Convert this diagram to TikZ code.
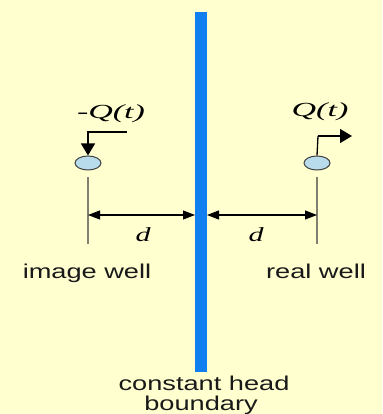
\documentclass[tikz,border=0pt]{standalone}
\usepackage{fontspec}
\setmainfont{Liberation Sans}
\newfontfamily\serifit{Liberation Serif}
\usetikzlibrary{arrows.meta,shapes.geometric}
\definecolor{bg}{RGB}{255,255,208}
\definecolor{barblue}{RGB}{16,128,240}
\definecolor{wellfill}{RGB}{184,220,236}
\definecolor{wellline}{RGB}{128,128,112}
\newcommand{\wide}[1]{\scalebox{1.36}[1]{#1}}
\tikzset{
  lbl/.style={inner sep=0pt, font=\fontsize{20}{20}\selectfont, text=black!90},
  mathlbl/.style={inner sep=0pt, font=\fontsize{20}{22}\selectfont\serifit\itshape},
  wellhead/.style={ellipse, draw=black!75, line width=1pt, fill=wellfill, minimum width=26pt, minimum height=14pt, inner sep=0pt},
  wellpipe/.style={draw=wellline, line width=1.8pt},
  flowarrow/.style={draw=black, line width=1.3pt, -{Triangle[length=12pt,width=14pt]}},
  dimarrow/.style={draw=black, line width=1.1pt, {Triangle[length=12pt,width=9pt]}-{Triangle[length=12pt,width=9pt]}}
}
\begin{document}
\begin{tikzpicture}[x=1pt,y=-1pt]
\fill[bg] (0,0) rectangle (382,414);
\useasboundingbox (0,0) rectangle (382,414);
% boundary
\node[fill=barblue, minimum width=12pt, minimum height=360pt, inner sep=0pt] (bar) at (201,192) {};
% wells
\node[wellhead] (lw) at (88,163) {};
\node[wellhead] (rw) at (317,163) {};
\coordinate (lwb) at (88,244);
\coordinate (rwb) at (317,244);
\draw[wellpipe] (88,177) coordinate (lwt) -- (lwb);
\draw[wellpipe] (317,177) coordinate (rwt) -- (rwb);
% flow arrows
\coordinate (lstart) at (127,132);
\coordinate (lcorner) at (88,132);
\draw[flowarrow] (lstart) -- (lcorner) -- (lw.north);
\coordinate (rcorner) at (318,136);
\coordinate (rend) at (352,136);
\draw[draw=black, line width=1.3pt] (rw.north) -- (rcorner);
\draw[flowarrow] (rcorner) -- (rend);
% labels Q
\node[mathlbl] (lq) at (111,114) {\scalebox{1.7}[1]{-Q(t)}};
\node[mathlbl] (rq) at (320,112) {\scalebox{1.7}[1]{Q(t)}};
% dimensions
\coordinate (dl1) at (88,215);
\coordinate (dl2) at (195,215);
\coordinate (dr1) at (207,215);
\coordinate (dr2) at (317,215);
\draw[dimarrow] (dl1) -- (dl2);
\draw[dimarrow] (dr1) -- (dr2);
\node[mathlbl] (d1) at (143,235) {\scalebox{1.5}[1]{d}};
\node[mathlbl] (d2) at (256,235) {\scalebox{1.5}[1]{d}};
% text labels
\node[lbl, anchor=base] (il) at (87,278) {\wide{image well}};
\node[lbl, anchor=base] (rl) at (316,278) {\wide{real well}};
\node[lbl, anchor=base] (c1) at (204,390) {\wide{constant head}};
\node[lbl, anchor=base] (c2) at (201,410) {\wide{boundary}};
\end{tikzpicture}
\end{document}
